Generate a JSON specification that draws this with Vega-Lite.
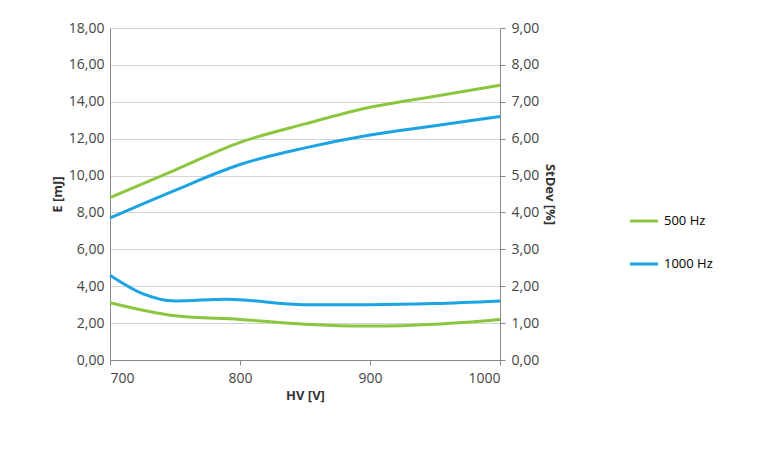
{
  "$schema": "https://vega.github.io/schema/vega-lite/v6.json",
  "autosize": "none",
  "width": 390,
  "height": 332,
  "padding": {"left": 110, "top": 28, "right": 268, "bottom": 103},
  "background": "white",
  "title": {
    "text": "KrF",
    "anchor": "end",
    "fontSize": 26,
    "fontWeight": "bold",
    "font": "Open Sans",
    "color": "#222",
    "dx": 155,
    "dy": 62
  },
  "data": {
    "values": [
      {"hv": 700, "series": "500 Hz", "measure": "E", "value": 8.8},
      {"hv": 750, "series": "500 Hz", "measure": "E", "value": 10.3},
      {"hv": 800, "series": "500 Hz", "measure": "E", "value": 11.8},
      {"hv": 850, "series": "500 Hz", "measure": "E", "value": 12.8},
      {"hv": 900, "series": "500 Hz", "measure": "E", "value": 13.7},
      {"hv": 950, "series": "500 Hz", "measure": "E", "value": 14.3},
      {"hv": 1000, "series": "500 Hz", "measure": "E", "value": 14.9},
      {"hv": 700, "series": "1000 Hz", "measure": "E", "value": 7.7},
      {"hv": 750, "series": "1000 Hz", "measure": "E", "value": 9.2},
      {"hv": 800, "series": "1000 Hz", "measure": "E", "value": 10.6},
      {"hv": 850, "series": "1000 Hz", "measure": "E", "value": 11.5},
      {"hv": 900, "series": "1000 Hz", "measure": "E", "value": 12.2},
      {"hv": 950, "series": "1000 Hz", "measure": "E", "value": 12.7},
      {"hv": 1000, "series": "1000 Hz", "measure": "E", "value": 13.2},
      {"hv": 700, "series": "500 Hz", "measure": "S", "value": 1.55},
      {"hv": 750, "series": "500 Hz", "measure": "S", "value": 1.2},
      {"hv": 800, "series": "500 Hz", "measure": "S", "value": 1.1},
      {"hv": 850, "series": "500 Hz", "measure": "S", "value": 0.97},
      {"hv": 900, "series": "500 Hz", "measure": "S", "value": 0.92},
      {"hv": 950, "series": "500 Hz", "measure": "S", "value": 0.97},
      {"hv": 1000, "series": "500 Hz", "measure": "S", "value": 1.1},
      {"hv": 700, "series": "1000 Hz", "measure": "S", "value": 2.3},
      {"hv": 725, "series": "1000 Hz", "measure": "S", "value": 1.8},
      {"hv": 750, "series": "1000 Hz", "measure": "S", "value": 1.6},
      {"hv": 790, "series": "1000 Hz", "measure": "S", "value": 1.65},
      {"hv": 850, "series": "1000 Hz", "measure": "S", "value": 1.5},
      {"hv": 900, "series": "1000 Hz", "measure": "S", "value": 1.5},
      {"hv": 950, "series": "1000 Hz", "measure": "S", "value": 1.53},
      {"hv": 1000, "series": "1000 Hz", "measure": "S", "value": 1.6}
    ]
  },
  "encoding": {
    "x": {
      "field": "hv",
      "type": "quantitative",
      "scale": {"domain": [700, 1000], "nice": false},
      "axis": {"title": "HV [V]", "values": [700, 800, 900, 1000], "format": "d", "grid": false, "ticks": true, "tickSize": 5, "domainColor": "#888", "tickColor": "#888"}
    },
    "color": {
      "field": "series",
      "type": "nominal",
      "scale": {"domain": ["500 Hz", "1000 Hz"], "range": ["#8cc63f", "#1ca3e3"]},
      "legend": {"title": null, "orient": "none", "legendX": 518, "legendY": 177, "symbolType": "stroke", "symbolSize": 800, "symbolStrokeWidth": 3, "rowPadding": 20, "labelFontSize": 13}
    }
  },
  "layer": [
    {
      "transform": [{"filter": "datum.measure == 'E'"}],
      "mark": {"type": "line", "interpolate": "monotone", "strokeWidth": 3},
      "encoding": {
        "y": {
          "field": "value",
          "type": "quantitative",
          "scale": {"domain": [0, 18]},
          "axis": {"title": "E [mJ]", "values": [0, 2, 4, 6, 8, 10, 12, 14, 16, 18], "labelExpr": "replace(format(datum.value, '.2f'), '.', ',')", "gridColor": "#d4d4d4", "ticks": false, "domainColor": "#888"}
        }
      }
    },
    {
      "transform": [{"filter": "datum.measure == 'S'"}],
      "mark": {"type": "line", "interpolate": "monotone", "strokeWidth": 3},
      "encoding": {
        "y": {
          "field": "value",
          "type": "quantitative",
          "scale": {"domain": [0, 9]},
          "axis": {"title": "StDev [%]", "orient": "right", "grid": false, "values": [0, 1, 2, 3, 4, 5, 6, 7, 8, 9], "labelExpr": "replace(format(datum.value, '.2f'), '.', ',')", "ticks": true, "tickSize": 5, "domainColor": "#888", "tickColor": "#888"}
        }
      }
    }
  ],
  "resolve": {"scale": {"y": "independent"}},
  "config": {
    "view": {"stroke": null},
    "font": "Open Sans",
    "axis": {"labelFontSize": 14, "labelColor": "#444", "titleFontSize": 13, "titleFontWeight": "bold", "titleColor": "#333", "labelPadding": 6}
  }
}
